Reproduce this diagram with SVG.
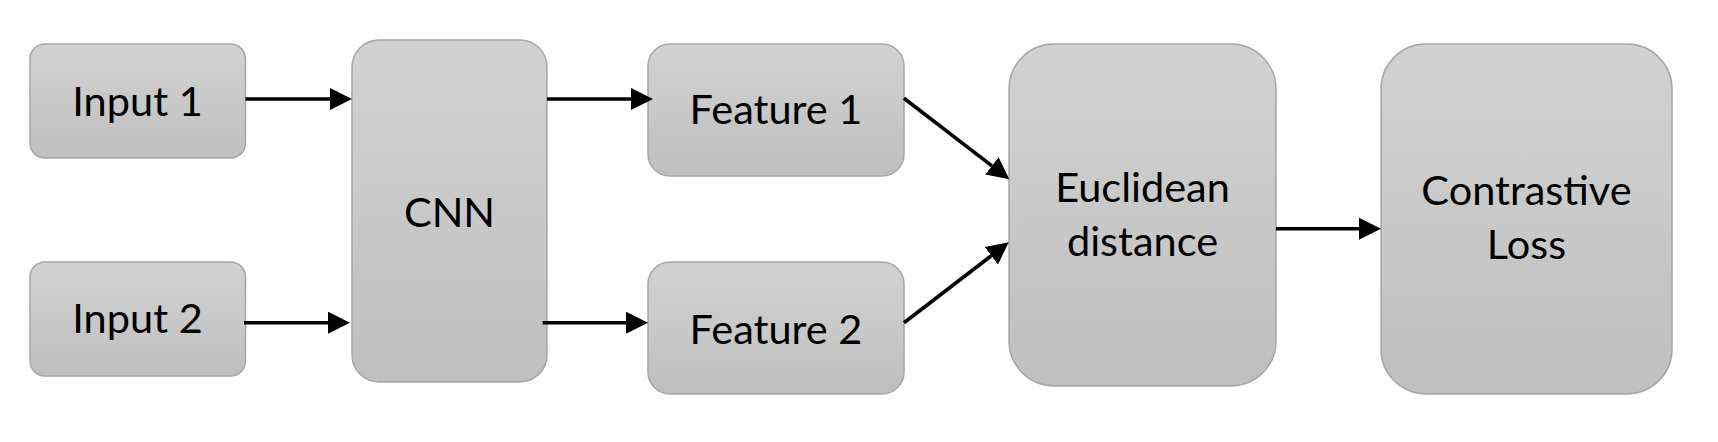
<svg xmlns="http://www.w3.org/2000/svg" width="1718" height="442" viewBox="0 0 1718 442">
<defs>
<linearGradient id="g" x1="0" y1="0" x2="0" y2="1">
<stop offset="0" stop-color="#d2d2d2"/>
<stop offset="1" stop-color="#bfbfbf"/>
</linearGradient>
<marker id="ah" markerUnits="userSpaceOnUse" markerWidth="24" markerHeight="23" refX="0" refY="11" orient="auto">
<path d="M0,0 L22,11 L0,22 z" fill="#000"/>
</marker>
<style>
.box{fill:url(#g);stroke:#a6a6a6;stroke-width:1.5}
.lbl{font-family:Lato,"Open Sans",sans-serif;font-size:41.5px;fill:#000;text-anchor:middle}
.con{stroke:#000;stroke-width:3.6;fill:none;marker-end:url(#ah)}
</style>
</defs>
<rect width="1718" height="442" fill="#fff"/>
<g id="input1"><rect class="box" x="30" y="44" width="215.5" height="114" rx="15"/><text class="lbl" x="137.5" y="116">Input 1</text></g>
<g id="input2"><rect class="box" x="30" y="262" width="215.5" height="114" rx="15"/><text class="lbl" x="137.5" y="333">Input 2</text></g>
<g id="cnn"><rect class="box" x="352" y="40" width="195" height="342" rx="27"/><text class="lbl" x="449.5" y="227">CNN</text></g>
<g id="feature1"><rect class="box" x="648" y="44" width="256" height="132" rx="22"/><text class="lbl" x="776" y="124">Feature 1</text></g>
<g id="feature2"><rect class="box" x="648" y="262" width="256" height="132" rx="22"/><text class="lbl" x="776" y="344">Feature 2</text></g>
<g id="euclidean"><rect class="box" x="1009" y="44" width="267" height="342" rx="45"/><text class="lbl" x="1142.5" y="202">Euclidean</text><text class="lbl" x="1142.5" y="256">distance</text></g>
<g id="contrastive"><rect class="box" x="1381" y="44" width="291" height="350" rx="45"/><text class="lbl" x="1526.5" y="205">Contrastive</text><text class="lbl" x="1526.5" y="259">Loss</text></g>
<g id="connectors">
<line class="con" x1="245.5" y1="99" x2="330" y2="99"/>
<line class="con" x1="244" y1="322.7" x2="328" y2="322.7"/>
<line class="con" x1="547" y1="99" x2="631" y2="99"/>
<line class="con" x1="542.7" y1="322.7" x2="626" y2="322.7"/>
<line class="con" x1="904" y1="98.3" x2="991.9" y2="165.9"/>
<line class="con" x1="904" y1="322.7" x2="991.3" y2="255.7"/>
<line class="con" x1="1276" y1="228.7" x2="1359" y2="228.7"/>
</g>
</svg>
